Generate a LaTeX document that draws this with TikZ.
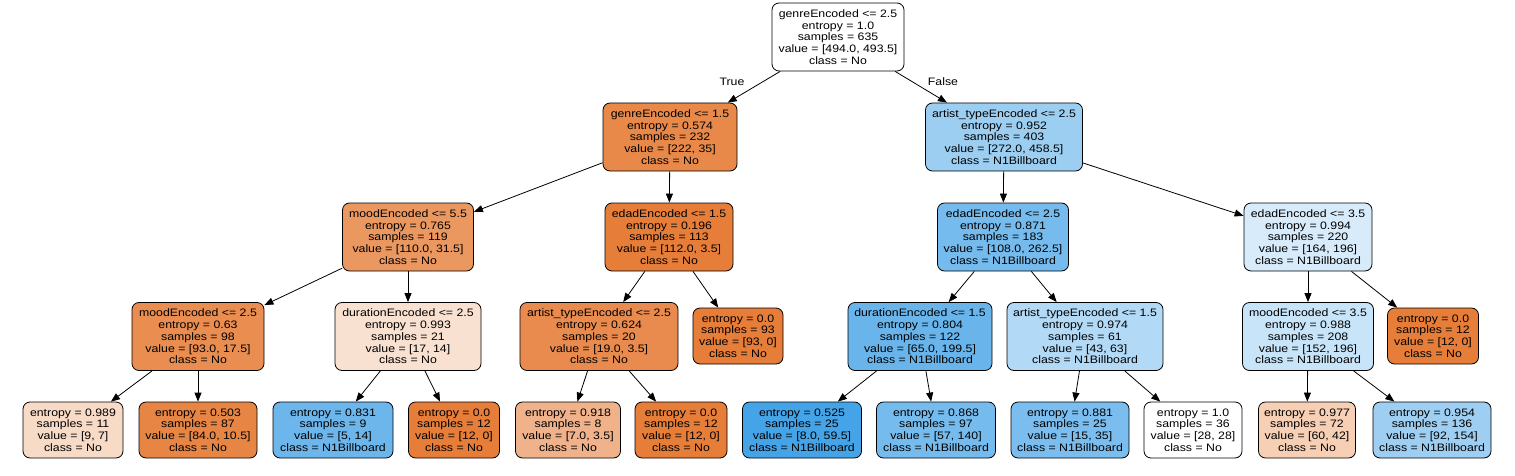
\documentclass[tikz,border=0pt]{standalone}
\usepackage{fontspec}
\newfontfamily\treefont{Liberation Sans}[FakeStretch=1.14]
\usetikzlibrary{arrows.meta}
\definecolor{ox}{RGB}{230,125,56}
\definecolor{bx}{RGB}{57,157,229}
\tikzset{
  tn/.style={draw=black, line width=0.8pt, rounded corners=7pt, align=center,
    inner sep=0pt, font=\treefont\fontsize{10.8}{11.7}\selectfont},
  dec/.style={tn, minimum height=68pt},
  leaf/.style={tn, minimum height=56pt},
  edge/.style={-{Triangle[length=9pt,width=7pt]}, line width=0.8pt, black},
  elab/.style={inner sep=0pt, font=\treefont\fontsize{10.8}{11.7}\selectfont}
}
\begin{document}
\begin{tikzpicture}[x=1pt,y=-1pt]
\useasboundingbox (0,0) rectangle (1515,476);
% level 0
\node[dec, minimum width=132pt, fill=white] (root) at (838,37) {genreEncoded <= 2.5\\entropy = 1.0\\samples = 635\\value = [494.0, 493.5]\\class = No};
% level 1
\node[dec, minimum width=134pt, fill=ox!91!white] (n1) at (670,137) {genreEncoded <= 1.5\\entropy = 0.574\\samples = 232\\value = [222, 35]\\class = No};
\node[dec, minimum width=157pt, fill=bx!50!white] (n2) at (1004,137) {artist\_typeEncoded <= 2.5\\entropy = 0.952\\samples = 403\\value = [272.0, 458.5]\\class = N1Billboard};
% level 2
\node[dec, minimum width=131pt, fill=ox!80!white] (n3) at (408,237) {moodEncoded <= 5.5\\entropy = 0.765\\samples = 119\\value = [110.0, 31.5]\\class = No};
\node[dec, minimum width=128pt, fill=ox!99!white] (n4) at (669,237) {edadEncoded <= 1.5\\entropy = 0.196\\samples = 113\\value = [112.0, 3.5]\\class = No};
\node[dec, minimum width=131pt, fill=bx!69!white] (n5) at (1003,237) {edadEncoded <= 2.5\\entropy = 0.871\\samples = 183\\value = [108.0, 262.5]\\class = N1Billboard};
\node[dec, minimum width=128pt, fill=bx!20!white] (n6) at (1308,237) {edadEncoded <= 3.5\\entropy = 0.994\\samples = 220\\value = [164, 196]\\class = N1Billboard};
% level 3
\node[dec, minimum width=132pt, fill=ox!88!white] (n7) at (198,336.5) {moodEncoded <= 2.5\\entropy = 0.63\\samples = 98\\value = [93.0, 17.5]\\class = No};
\node[dec, minimum width=146pt, fill=ox!23!white] (n8) at (408,336.5) {durationEncoded <= 2.5\\entropy = 0.993\\samples = 21\\value = [17, 14]\\class = No};
\node[dec, minimum width=158pt, fill=ox!89!white] (n9) at (599,336.5) {artist\_typeEncoded <= 2.5\\entropy = 0.624\\samples = 20\\value = [19.0, 3.5]\\class = No};
\node[leaf, minimum width=90pt, fill=ox] (n10) at (738,336) {entropy = 0.0\\samples = 93\\value = [93, 0]\\class = No};
\node[dec, minimum width=144pt, fill=bx!76!white] (n11) at (920,336.5) {durationEncoded <= 1.5\\entropy = 0.804\\samples = 122\\value = [65.0, 199.5]\\class = N1Billboard};
\node[dec, minimum width=156pt, fill=bx!39!white] (n12) at (1085,336.5) {artist\_typeEncoded <= 1.5\\entropy = 0.974\\samples = 61\\value = [43, 63]\\class = N1Billboard};
\node[dec, minimum width=131pt, fill=bx!28!white] (n13) at (1308,336.5) {moodEncoded <= 3.5\\entropy = 0.988\\samples = 208\\value = [152, 196]\\class = N1Billboard};
\node[leaf, minimum width=91pt, fill=ox] (n14) at (1433,336) {entropy = 0.0\\samples = 12\\value = [12, 0]\\class = No};
% level 4
\node[leaf, minimum width=100pt, fill=ox!28!white] (n15) at (73,430) {entropy = 0.989\\samples = 11\\value = [9, 7]\\class = No};
\node[leaf, minimum width=118pt, fill=ox!94!white] (n16) at (198,430) {entropy = 0.503\\samples = 87\\value = [84.0, 10.5]\\class = No};
\node[leaf, minimum width=120pt, fill=bx!74!white] (n17) at (333,430) {entropy = 0.831\\samples = 9\\value = [5, 14]\\class = N1Billboard};
\node[leaf, minimum width=91pt, fill=ox] (n18) at (454,430) {entropy = 0.0\\samples = 12\\value = [12, 0]\\class = No};
\node[leaf, minimum width=105pt, fill=ox!59!white] (n19) at (568,430) {entropy = 0.918\\samples = 8\\value = [7.0, 3.5]\\class = No};
\node[leaf, minimum width=92pt, fill=ox] (n20) at (681,430) {entropy = 0.0\\samples = 12\\value = [12, 0]\\class = No};
\node[leaf, minimum width=119pt, fill=bx!94!white] (n21) at (802,430) {entropy = 0.525\\samples = 25\\value = [8.0, 59.5]\\class = N1Billboard};
\node[leaf, minimum width=119pt, fill=bx!69!white] (n22) at (936,430) {entropy = 0.868\\samples = 97\\value = [57, 140]\\class = N1Billboard};
\node[leaf, minimum width=118pt, fill=bx!67!white] (n23) at (1070,430) {entropy = 0.881\\samples = 25\\value = [15, 35]\\class = N1Billboard};
\node[leaf, minimum width=98pt, fill=white] (n24) at (1193,430) {entropy = 1.0\\samples = 36\\value = [28, 28]\\class = No};
\node[leaf, minimum width=97pt, fill=ox!37!white] (n25) at (1307,430) {entropy = 0.977\\samples = 72\\value = [60, 42]\\class = No};
\node[leaf, minimum width=118pt, fill=bx!49!white] (n26) at (1432,430) {entropy = 0.954\\samples = 136\\value = [92, 154]\\class = N1Billboard};
% edge labels
\node[elab] (lt) at (732,82) {True};
\node[elab] (lf) at (943,82) {False};
% edges
\draw[edge] (root) -- (n1);
\draw[edge] (root) -- (n2);
\draw[edge] (n1) -- (n3);
\draw[edge] (n1) -- (n4);
\draw[edge] (n2) -- (n5);
\draw[edge] (n2) -- (n6);
\draw[edge] (n3) -- (n7);
\draw[edge] (n3) -- (n8);
\draw[edge] (n4) -- (n9);
\draw[edge] (n4) -- (n10);
\draw[edge] (n5) -- (n11);
\draw[edge] (n5) -- (n12);
\draw[edge] (n6) -- (n13);
\draw[edge] (n6) -- (n14);
\draw[edge] (n7) -- (n15);
\draw[edge] (n7) -- (n16);
\draw[edge] (n8) -- (n17);
\draw[edge] (n8) -- (n18);
\draw[edge] (n9) -- (n19);
\draw[edge] (n9) -- (n20);
\draw[edge] (n11) -- (n21);
\draw[edge] (n11) -- (n22);
\draw[edge] (n12) -- (n23);
\draw[edge] (n12) -- (n24);
\draw[edge] (n13) -- (n25);
\draw[edge] (n13) -- (n26);
\end{tikzpicture}
\end{document}
